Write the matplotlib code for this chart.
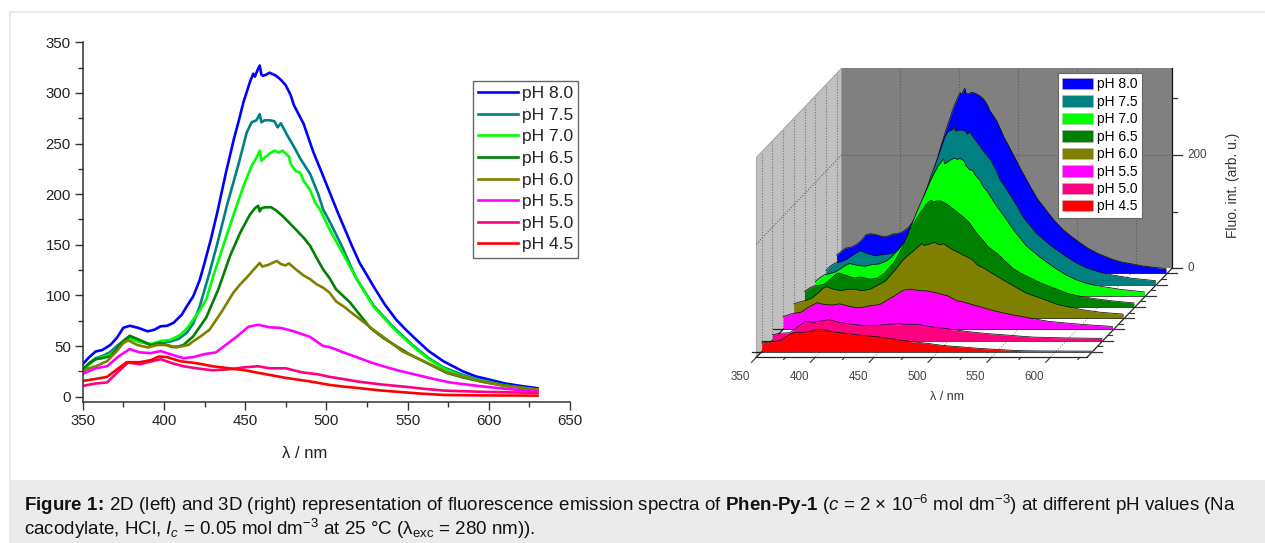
import matplotlib
matplotlib.use("Agg")
import matplotlib.pyplot as plt
from matplotlib.patches import Rectangle, Polygon
from matplotlib.transforms import Affine2D
from matplotlib.lines import Line2D
from matplotlib.ticker import MultipleLocator

plt.rcParams['font.family'] = ['Liberation Sans', 'DejaVu Sans']
plt.rcParams['mathtext.fontset'] = 'custom'
plt.rcParams['mathtext.rm'] = 'Liberation Sans'
plt.rcParams['mathtext.it'] = 'Liberation Sans:italic'
plt.rcParams['mathtext.bf'] = 'Liberation Sans:bold'

labels = ["pH 8.0", "pH 7.5", "pH 7.0", "pH 6.5", "pH 6.0", "pH 5.5", "pH 5.0", "pH 4.5"]
colors = ["#0000ff", "#008080", "#00ff00", "#008000", "#808000", "#ff00ff", "#ff0080", "#ff0000"]

wl_80 = [350,354,358,362,367,371,375,379,384,390,394,398,402,406,411,414,418,422,425,429,433,438,443,446,449,453,455,456,457.5,459,460,461,463,465,469,472,475,478,480,486,492,498,503,507,511.5,516,520.5,525,529,536,543,549,555.5,563,572,578,584,592,601,610,620,630]
i_80 = [32,39,44.6,46,51,58,68,70,68,64.5,66,69.5,70,73,81,89,99,115,132,156,183,220,254,272,291,311,319,316,322,327,318,317,318,320,317,313,307.5,298,288,269.5,241.5,218,198,182,165,148,132,120,109,91,76,66,56,45,35,30,25,20,16.6,13,10.5,8.3]
wl_75 = [350,354,358,362,367,371,375,379,385,392,398,404,409,414,418,422,428,433,439,446,451,454,457,459,460,462,465,468,470,472,476,480,484,490,495,498,503,510,518,529,541,553,563,572,583,593,610,630]
i_75 = [25,33,38,40,44,50,55,60,55,51,53,54.5,57,63,72,89,122,152,190,230,261,271,273,279,271,273,273,272,266,270,258,247,235,220,200,185,170,147,118,90,69,51,38,29,22,17,11,6.8]
wl_70 = [350,354,358,362,367,371,375,379,385,392,398,404,410,414,418,422,426,431,436.5,444,449,454,457,459,460,462,465,468,471,473,475,477,478,481,484,486,490,493,496,503,510,518.7,529,541,553,563,572,582,592.6,610,630]
i_70 = [25,32,37,39,42,47,53,57,54,52,55,56,61,67,76,85,96,122,149,185,208,228,236,243,233,236,240,243,241,243,240,237,230,223,221,213,204,192,185,162,142,116,89,68,50,37,28,21,16.6,11,6.6]
wl_65 = [350,354,358,362,367,371,375,379,385,392,398,405,409,412,418,426,433.5,440.7,447,453,456,458,459,460,462,466,469,473,477,482,486,490,494,498,502,506,514.6,520,527,535,543,551,559.7,574,584,595,610,630]
i_65 = [27,33,37,38,40,47,54.6,60,56,51,53,49,49.6,51,59.5,78,106,139,162,180,186,188.5,183,186,187,187,184,178.5,172,163.7,157,149,137,125.7,117,106,93,82,68,58,50,42,35,23.5,19,15,11,7]
wl_60 = [350,354,358,365,371,375,378,383.6,390,396,402,407.5,415,418,423,428,435.6,442.7,447,451,455,459,460.5,464,469.5,472,474.7,477,481,486,490,494,498,502,506,511.6,514.6,522.7,529,535,547,560,574,595,610,630]
i_60 = [25,28,30,35,45,53,55.6,51,48.6,51,51,48.6,51,54.6,60,66,84,102.6,111,117.6,125,132,128.5,130,134,131,129.6,131.6,126,119.7,116,111,107.6,102.7,94,88,84,74,66,59,44.6,35,24,15,10.5,7]
wl_55 = [350,358,365,372,379,385,392,398,405,412,418,425,432,438,445,452,458,465,472,480,490,498,502,510,518.7,527,535,545,555.6,566,576,586,596.7,612,630]
i_55 = [22.5,28,30,39.7,47,43.7,43,45,41.4,38,39,42,43.7,51,59.5,69,71,68.5,67.9,64.5,59,50,49,44,39,34,30,25.5,21.5,17.5,14,12,10,7.5,5]
wl_50 = [350,358,365,372,378,385,392,398,405,412,420,430,440,450,458,465,475,485,495,502,510,519,534,549.6,560,572,585,600,630]
i_50 = [10.6,13,14,25,33.7,32,34.7,37,33,30,28,26,27,29,30,28,28,24,22,19.5,17.5,15,12,9.6,7.8,6,5.3,4.6,3.7]
wl_45 = [350,358,365,372,377,385,392,397,402,410,420,430,440,450,458,465,475,490,502,510,519,534,550,560,572,585,600,630]
i_45 = [15.5,17.5,19.5,28,34,34,36,39.7,39,35,33,30,28,26,23.5,21.5,18.5,15,11.6,10,8.6,6,4,2.8,1.7,1.4,1.2,1]

wavelengths = [wl_80, wl_75, wl_70, wl_65, wl_60, wl_55, wl_50, wl_45]
intensities = [i_80, i_75, i_70, i_65, i_60, i_55, i_50, i_45]

W, H = 1265, 543
fig = plt.figure(figsize=(W / 100, H / 100), dpi=100, facecolor="white")

# page furniture
fig.add_artist(Line2D([9.5 / W, 9.5 / W], [0, (H - 12) / H], color="#e6e6e6", lw=1.1))
fig.add_artist(Line2D([9.5 / W, 1], [(H - 12) / H, (H - 12) / H], color="#e6e6e6", lw=1.1))
fig.add_artist(Rectangle((10 / W, 0), (W - 10) / W, (H - 480) / H, transform=fig.transFigure, fc="#ebebeb", ec="none"))

# ---------- 2D panel ----------
TXT = "#222222"
ax = fig.add_axes([82.7 / W, (H - 401.7) / H, (570.0 - 82.7) / W, (401.7 - 42.3) / H])
for wl, yy, c, lab in zip(wavelengths, intensities, colors, labels):
    ax.plot(wl, yy, color=c, lw=1.9, label=lab, solid_joinstyle="round")
ax.set_xlim(350, 650)
ax.set_ylim(-5, 350)
ax.set_xticks(range(350, 651, 50))
ax.set_yticks(range(0, 351, 50))
ax.xaxis.set_minor_locator(MultipleLocator(25))
ax.yaxis.set_minor_locator(MultipleLocator(25))
for s in ("top", "right"):
    ax.spines[s].set_visible(False)
for s in ("left", "bottom"):
    ax.spines[s].set_color("#333333")
    ax.spines[s].set_linewidth(1.1)
ax.tick_params(which="major", length=6, width=1.0, color="#333333", labelsize=10.8, labelcolor=TXT, pad=2.5)
ax.tick_params(which="minor", length=3.5, width=1.0, color="#333333")
ax.set_xlabel("λ / nm", fontsize=12, color=TXT, labelpad=13, x=(305 - 82.7) / (570 - 82.7))
leg = ax.legend(loc="upper left", bbox_to_anchor=((473 - 82.7) / (570 - 82.7), (401.7 - 81) / (401.7 - 42.3)),
                borderaxespad=0, fancybox=False, framealpha=1, edgecolor="#666666",
                fontsize=12.5, handlelength=2.3, handletextpad=0.23, labelspacing=0.372, borderpad=0.29)
leg.get_frame().set_linewidth(1.0)
for t in leg.get_texts():
    t.set_color(TXT)

# ---------- 3D panel ----------
SX, SY = 1.1767, 0.566          # px per nm, px per intensity unit
DX, DY = 10.7, 11.2             # px per series step
X0, Y0 = 761.7, H - 351.7       # display position of (350 nm, 0) on the front series
ax3 = fig.add_axes([0, 0, 1, 1], facecolor="none")
ax3.set_axis_off()
ax3.set_xlim(350 - X0 / SX, 350 + (W - X0) / SX)
ax3.set_ylim(-Y0 / SY, (H - Y0) / SY)
L0, L1, IMAX, K0, K1 = 350, 631, 353, -0.5, 7.45


def dep(k, px=0, py=0):
    return ax3.transData + Affine2D().translate(k * DX + px, k * DY + py)


def pt(lam, val, k):
    return (lam + k * DX / SX, val + k * DY / SY)


ax3.add_patch(Polygon([pt(L0, 0, K1), pt(L1, 0, K1), pt(L1, IMAX, K1), pt(L0, IMAX, K1)], fc="#808080", ec="none", zorder=1))
ax3.add_patch(Polygon([pt(L0, 0, K0), pt(L0, 0, K1), pt(L0, IMAX, K1), pt(L0, IMAX, K0)], fc="#c0c0c0", ec="#9a9a9a", lw=0.6, zorder=1))

grid_kw = dict(lw=0.8, ls=(0, (1, 1.5)), zorder=2)
depth_ticks = range(0, 8)
lam_major = [350, 400, 450, 500, 550, 600]
lam_minor = [375, 425, 475, 525, 575, 625]
for lam in lam_major[1:]:
    ax3.plot(*zip(pt(lam, 0, K1), pt(lam, IMAX, K1)), color="#5a5a5a", **grid_kw)
    ax3.plot(*zip(pt(lam, 0, K0), pt(lam, 0, K1)), color="#909090", **grid_kw)
ax3.plot(*zip(pt(L0, 200, K1), pt(L1, 200, K1)), color="#5a5a5a", **grid_kw)
ax3.plot(*zip(pt(L0, 200, K0), pt(L0, 200, K1)), color="#666666", **grid_kw)
for k in depth_ticks:
    ax3.plot(*zip(pt(L0, 0, k), pt(L0, IMAX, k)), color="#777777", **grid_kw)

# axes lines and ticks
ax3.plot(*zip(pt(L0, 0, K0), pt(L1, 0, K0)), color="#222222", lw=0.9, zorder=3)
ax3.plot(*zip(pt(L1, 0, K0), pt(L1, 0, K1)), color="#222222", lw=0.9, zorder=3)
ax3.plot(*zip(pt(L0, 0, K0), pt(L0, 0, K1)), color="#222222", lw=0.9, zorder=3)
ax3.plot(*zip(pt(L1, 0, K1), pt(L1, IMAX, K1)), color="#111111", lw=0.9, zorder=3)
for lam in lam_major:
    ax3.plot(*zip(pt(lam, 0, K0), pt(lam, 0, K0 - 0.45)), color="#333333", lw=0.8, zorder=3)
    ax3.text(lam, 0, str(lam), transform=dep(K0, -16, -19.5), ha="center", va="center", fontsize=8.4, color="#444444")
for lam in lam_minor:
    ax3.plot(*zip(pt(lam, 0, K0), pt(lam, 0, K0 - 0.2)), color="#333333", lw=0.8, zorder=3)
for k in depth_ticks:
    ax3.plot([L1, L1 + 10 / SX], [0, 0], transform=dep(k), color="#333333", lw=0.9, zorder=3)
    ax3.plot([L0 - 10 / SX, L0], [0, 0], transform=dep(k), color="#222222", lw=0.9, zorder=3)
    ax3.plot([L1, L1 + 4 / SX], [0, 0], transform=dep(k + 0.5), color="#333333", lw=0.8, zorder=3)
for val, ln in ((0, 10), (100, 5), (200, 10), (300, 5)):
    ax3.plot([L1, L1 + ln / SX], [val, val], transform=dep(K1), color="#333333", lw=0.9, zorder=3)
for val in (0, 200):
    ax3.text(L1, val, str(val), transform=dep(K1, 15.5, 0), ha="left", va="center", fontsize=8.4, color="#444444")

# filled spectra, back to front
for idx, (wl, yy, c) in enumerate(zip(wavelengths, intensities, colors)):
    k = 7 - idx
    z = 4 + idx
    ax3.fill_between(wl, 0, yy, color=c, lw=0, transform=dep(k), zorder=z)
    ax3.plot(wl, yy, color="#111111", lw=0.55, transform=dep(k), zorder=z)
    ax3.plot([wl[0], wl[-1]], [0, 0], color="#222222", lw=0.55, transform=dep(k), zorder=z)

# 3D labels in page pixels
fig.text(947 / W, (H - 397) / H, "λ / nm", ha="center", va="center", fontsize=9, color="#333333")
fig.text(1233 / W, (H - 185) / H, "Fluo. int. (arb. u.)", rotation=90, ha="center", va="center", fontsize=9.9, color="#333333")

# 3D legend
handles = [Rectangle((0, 0), 1, 1, fc=c, ec="#bbbbbb", lw=0.4) for c in colors]
leg3 = ax3.legend(handles, labels, loc="upper left", bbox_to_anchor=(1057.7 / W, (H - 72.7) / H),
                  borderaxespad=0, fancybox=False, framealpha=1, edgecolor="#666666",
                  fontsize=9.9, handlelength=2.23, handleheight=0.9, handletextpad=0.3,
                  labelspacing=0.25, borderpad=0.34)
leg3.get_frame().set_linewidth(0.8)
leg3.set_zorder(30)

# caption
CAP = 13.5
fig.text(24 / W, (H - 511) / H,
         r"$\mathbf{Figure\ 1}\!\mathbf{:}\!$ 2D (left) and 3D (right) representation of fluorescence emission spectra of "
         r"$\mathbf{Phen‐Py‐1}$ ($\mathit{c}$ = 2 × 10$^{-6}$ mol dm$^{-3}$) at different pH values (Na",
         fontsize=CAP, color="#111111", va="baseline")
fig.text(24 / W, (H - 535) / H,
         r"cacodylate, HCl, $\mathit{I}_{\mathit{c}}$ = 0.05 mol dm$^{-3}$ at 25 °C (λ$_{\mathrm{exc}}$ = 280 nm)).",
         fontsize=CAP, color="#111111", va="baseline")

fig.savefig("out.png", dpi=100)
